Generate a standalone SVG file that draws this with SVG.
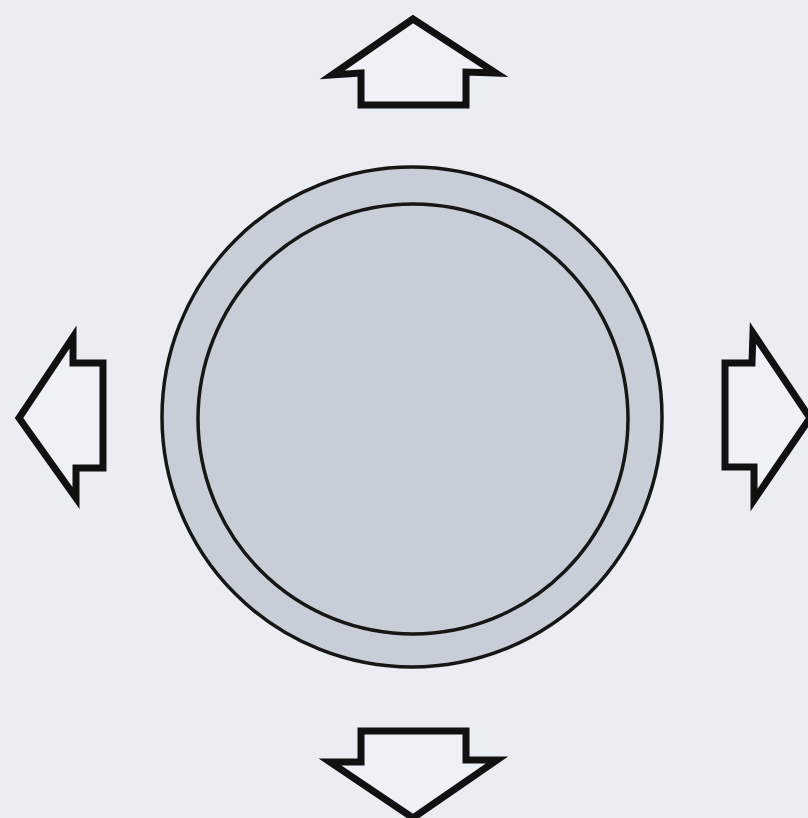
<svg xmlns="http://www.w3.org/2000/svg" width="808" height="818" viewBox="0 0 808 818">
<style>
.bg{fill:#eaeef2}
.ring{fill:#c8ced7;stroke:#161616;stroke-width:3.5}
.arrow{fill:#eef1f5;stroke:#111;stroke-width:7;stroke-linejoin:miter;stroke-miterlimit:10}
</style>
<rect class="bg" x="0" y="0" width="808" height="818"/>
<g id="disc">
<circle class="ring" cx="412" cy="417" r="250"/>
<circle class="ring" cx="413" cy="419" r="215"/>
</g>
<g id="connectors">
<g id="arrow-up"><polygon class="arrow" points="413,19 332,75 361,73 361,105 466,105 466,72 496,73"/></g>
<g id="arrow-left"><polygon class="arrow" points="19,418 73,337 73,363 103,363 103,468 76,468 76,498"/></g>
<g id="arrow-right"><polygon class="arrow" points="810,418 753,333 752,363 725,363 725,467 754,467 754,500"/></g>
<g id="arrow-down"><polygon class="arrow" points="413,818 330,762 361,762 361,731 466,731 466,760 497,760"/></g>
</g>
</svg>
